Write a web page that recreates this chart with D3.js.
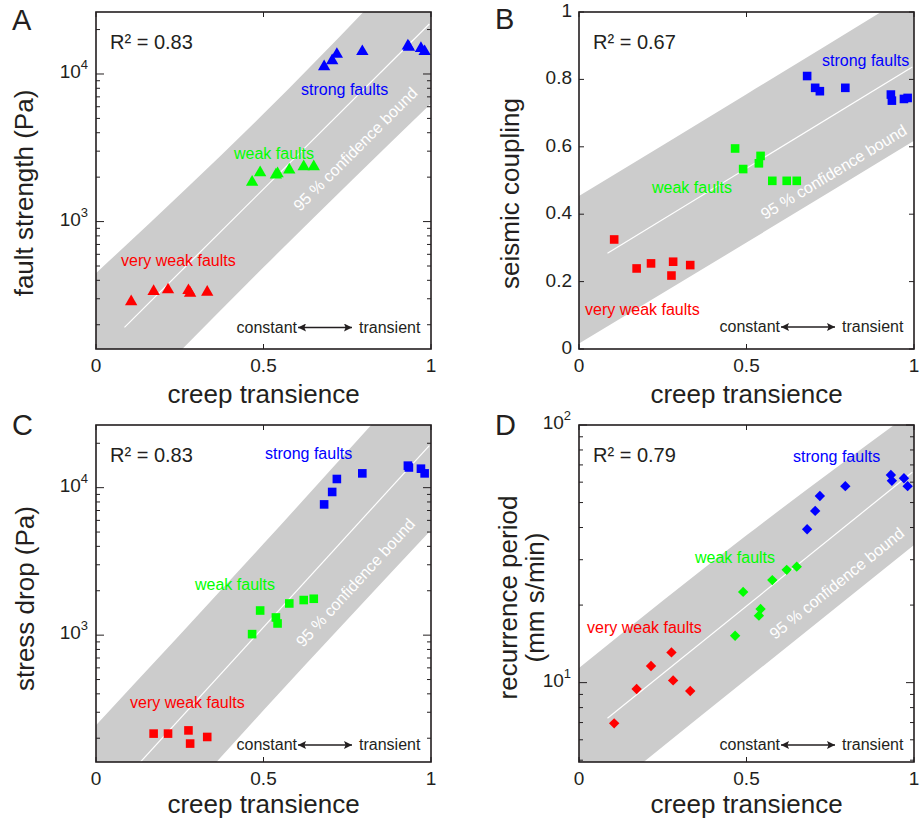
<!DOCTYPE html>
<html>
<head>
<meta charset="utf-8">
<script src="https://cdn.jsdelivr.net/npm/d3@7"></script>
<style>
  body { margin: 0; background: #fff; }
  svg text { font-family: Arial, "Liberation Sans", Helvetica, sans-serif; fill: #231f20; }
</style>
</head>
<body>
<svg id="fig" width="921" height="830"></svg>
<script>
// creep transience of each fault group (shared by all four panels)
const transRed   = [0.105, 0.172, 0.215, 0.276, 0.281, 0.332];
const transGreen = [0.466, 0.49, 0.537, 0.542, 0.577, 0.62, 0.65];
const transBlue  = [0.681, 0.705, 0.719, 0.795, 0.931, 0.934, 0.97, 0.981];

// A: fault strength (Pa)
const strengthRed   = [287, 336, 345, 341, 327, 333];
const strengthGreen = [1848, 2148, 2070, 2110, 2240, 2356, 2356];
const strengthBlue  = [11200, 12300, 13600, 14200, 15500, 15200, 14900, 14200];

// B: seismic coupling
const couplingRed   = [0.325, 0.239, 0.254, 0.218, 0.259, 0.249];
const couplingGreen = [0.595, 0.534, 0.551, 0.573, 0.499, 0.499, 0.499];
const couplingBlue  = [0.81, 0.775, 0.765, 0.775, 0.755, 0.737, 0.742, 0.745];

// C: stress drop (Pa) -- first red fault falls below the axis
const stressRed   = [null, 215, 215, 226, 184, 204];
const stressGreen = [1016, 1469, 1318, 1200, 1640, 1730, 1765];
const stressBlue  = [7700, 9350, 11450, 12500, 14100, 13700, 13450, 12500];

// D: recurrence period (mm s/min)
const recurRed   = [6.95, 9.45, 11.6, 13.1, 10.2, 9.28];
const recurGreen = [15.2, 22.5, 18.2, 19.3, 25.0, 27.4, 28.2];
const recurBlue  = [39.4, 46.4, 53, 57.9, 64, 60.7, 62.1, 57.9];

// regression lines and 95 % bounds
const fitX  = [0.085, 0.995];
const bandX = [0, 0.5, 1];
const strengthFit = [192, 21800],  strengthLo = [34.7, 490, 6310],    strengthHi = [447, 5370, 79400];
const couplingFit = [0.284, 0.837], couplingLo = [0.016, 0.316, 0.618], couplingHi = [0.454, 0.756, 1.06];
const stressFit   = [105, 19300],  stressLo   = [17.1, 309, 5160],    stressHi   = [245, 4160, 75000];
const recurFit    = [7.27, 65.6],  recurLo    = [3.09, 10.3, 34.2],   recurHi    = [11.4, 37.3, 114];

const r2Labels = ['R² = 0.83', 'R² = 0.67', 'R² = 0.83', 'R² = 0.79'];
const groupNames = ['very weak faults', 'weak faults', 'strong faults'];
const groupColors = ['#ff0000', '#00ff00', '#0000ff'];
const xTicks = [0, 0.5, 1];
const xTickLabels = ['0', '0.5', '1'];
const linTicks = [0, 0.2, 0.4, 0.6, 0.8, 1];

const W = 335, H = 337;

const panels = [
  { letter: 'A', left: 96, top: 12, log: true, domain: [137, 26300], marker: 'triangle',
    ys: [strengthRed, strengthGreen, strengthBlue], fit: strengthFit, lo: strengthLo, hi: strengthHi,
    ylabel: ['fault strength (Pa)'], ylabelX: [33], ylabelY: 193, letterPos: [12, 30],
    groupPos: [[25, 254], [138, 147], [205, 83]], boundPos: [204, 200], arrowY: 16.5, xlabelDy: 54 },
  { letter: 'B', left: 579, top: 12, log: false, domain: [0, 1], marker: 'square',
    ys: [couplingRed, couplingGreen, couplingBlue], fit: couplingFit, lo: couplingLo, hi: couplingHi,
    ylabel: ['seismic coupling'], ylabelX: [519], ylabelY: 193.5, letterPos: [495, 29],
    groupPos: [[6, 303], [73, 181], [243, 54]], boundPos: [186, 208], arrowY: 17, xlabelDy: 54 },
  { letter: 'C', left: 96, top: 425, log: true, domain: [138, 26600], marker: 'square',
    ys: [stressRed, stressGreen, stressBlue], fit: stressFit, lo: stressLo, hi: stressHi,
    ylabel: ['stress drop (Pa)'], ylabelX: [34], ylabelY: 598.5, letterPos: [12, 435],
    groupPos: [[34, 283], [99, 165], [169, 34]], boundPos: [207, 223], arrowY: 12, xlabelDy: 51 },
  { letter: 'D', left: 579, top: 425, log: true, domain: [4.92, 100], marker: 'diamond',
    ys: [recurRed, recurGreen, recurBlue], fit: recurFit, lo: recurLo, hi: recurHi,
    ylabel: ['recurrence period', '(mm s/min)'], ylabelX: [517, 544], ylabelY: 597.5, letterPos: [495, 435],
    groupPos: [[8, 208], [116, 138], [214, 37]], boundPos: [196, 215], arrowY: 12, xlabelDy: 51 }
];
const trans = [transRed, transGreen, transBlue];

const svg = d3.select('#fig');
const defs = svg.append('defs');
defs.append('marker')
  .attr('id', 'ahead')
  .attr('viewBox', '0 0 10 10')
  .attr('refX', 10).attr('refY', 5)
  .attr('markerWidth', 10).attr('markerHeight', 8)
  .attr('markerUnits', 'userSpaceOnUse')
  .attr('orient', 'auto-start-reverse')
  .append('path').attr('d', 'M0,0 L10,5 L0,10 L2,5 Z').attr('fill', '#231f20');

panels.forEach((p, pi) => {
  const x = d3.scaleLinear().domain([0, 1]).range([p.left, p.left + W]);
  const y = (p.log ? d3.scaleLog() : d3.scaleLinear()).domain(p.domain).range([p.top + H, p.top]);
  const g = svg.append('g');

  defs.append('clipPath').attr('id', 'clip' + pi)
    .append('rect').attr('x', p.left).attr('y', p.top).attr('width', W).attr('height', H);
  const plot = g.append('g').attr('clip-path', 'url(#clip' + pi + ')');

  // confidence band
  const area = d3.area()
    .x(d => x(d))
    .y0((d, i) => y(p.lo[i]))
    .y1((d, i) => y(p.hi[i]))
    .curve(d3.curveNatural);
  plot.append('path').datum(bandX).attr('d', area).attr('fill', '#cccccc');

  // regression line
  const line = d3.line().x(d => x(d)).y((d, i) => y(p.fit[i]));
  plot.append('path').datum(fitX).attr('d', line)
    .attr('fill', 'none').attr('stroke', '#fff').attr('stroke-width', 1.2);

  // bound label, rotated along the band
  const ang = Math.atan2(y(p.lo[2]) - y(p.lo[0]), x(1) - x(0)) * 180 / Math.PI;
  g.append('text')
    .attr('transform', `translate(${p.left + p.boundPos[0]},${p.top + p.boundPos[1]}) rotate(${ang})`)
    .style('font-size', '16px').style('fill', '#fff')
    .text('95 % confidence bound');

  // group labels
  groupNames.forEach((name, k) => {
    g.append('text')
      .attr('x', p.left + p.groupPos[k][0]).attr('y', p.top + p.groupPos[k][1])
      .style('font-size', '16px').style('fill', groupColors[k])
      .text(name);
  });

  // points
  let sym;
  if (p.marker === 'triangle') sym = d3.symbol().type(d3.symbolTriangle).size(66);
  else if (p.marker === 'square') sym = d3.symbol().type(d3.symbolSquare).size(74);
  else sym = d3.symbol().type(d3.symbolSquare).size(54);
  const rot = p.marker === 'diamond' ? ' rotate(45)' : '';

  p.ys.forEach((vals, k) => {
    const pts = vals.map((v, i) => ({ x: trans[k][i], y: v })).filter(d => d.y != null);
    plot.selectAll('.pt' + k)
      .data(pts)
      .enter()
      .append('path')
      .attr('class', 'pt' + k)
      .attr('d', sym)
      .attr('transform', d => `translate(${x(d.x)},${y(d.y)})${rot}`)
      .attr('fill', groupColors[k]);
  });

  // R² text
  g.append('text')
    .attr('x', p.left + 14).attr('y', p.top + 36.5)
    .style('font-size', '20px')
    .text(r2Labels[pi]);

  // constant <-> transient
  const by = p.top + H - p.arrowY;
  g.append('text')
    .attr('x', p.left + 201).attr('y', by)
    .attr('text-anchor', 'end')
    .style('font-size', '16px')
    .text('constant');
  g.append('line')
    .attr('x1', p.left + 202).attr('x2', p.left + 256)
    .attr('y1', by - 5).attr('y2', by - 5)
    .attr('stroke', '#231f20').attr('stroke-width', 1.3)
    .attr('marker-start', 'url(#ahead)').attr('marker-end', 'url(#ahead)');
  g.append('text')
    .attr('x', p.left + 263).attr('y', by)
    .style('font-size', '16px')
    .text('transient');

  // box
  g.append('rect')
    .attr('x', p.left).attr('y', p.top).attr('width', W).attr('height', H)
    .attr('fill', 'none').attr('stroke', '#231f20').attr('stroke-width', 1.6);

  // x ticks (inside, top and bottom)
  xTicks.forEach((t, i) => {
    g.append('line').attr('x1', x(t)).attr('x2', x(t))
      .attr('y1', p.top + H).attr('y2', p.top + H - 5)
      .attr('stroke', '#231f20');
    g.append('line').attr('x1', x(t)).attr('x2', x(t))
      .attr('y1', p.top).attr('y2', p.top + 5)
      .attr('stroke', '#231f20');
    g.append('text')
      .attr('x', x(t)).attr('y', p.top + H + 23)
      .attr('text-anchor', 'middle')
      .style('font-size', '19px')
      .text(xTickLabels[i]);
  });

  // y ticks
  const yt = p.log ? y.ticks() : linTicks;
  yt.forEach(t => {
    const major = p.log ? Math.abs(Math.log10(t) - Math.round(Math.log10(t))) < 1e-9 : true;
    const len = p.log ? (major ? 8 : 4) : 5;
    g.append('line').attr('x1', p.left).attr('x2', p.left + len)
      .attr('y1', y(t)).attr('y2', y(t)).attr('stroke', '#231f20');
    g.append('line').attr('x1', p.left + W).attr('x2', p.left + W - len)
      .attr('y1', y(t)).attr('y2', y(t)).attr('stroke', '#231f20');
    if (!major) return;
    if (p.log) {
      const txt = g.append('text')
        .attr('x', p.left - 8).attr('y', y(t) + 4)
        .attr('text-anchor', 'end')
        .style('font-size', '19px');
      txt.append('tspan').text('10');
      txt.append('tspan').attr('dy', -9).style('font-size', '13px')
        .text(Math.round(Math.log10(t)));
    } else {
      g.append('text')
        .attr('x', p.left - 7).attr('y', y(t) + 5)
        .attr('text-anchor', 'end')
        .style('font-size', '19px')
        .text(d3.format('')(t));
    }
  });

  // axis labels
  g.append('text')
    .attr('x', p.left + W / 2).attr('y', p.top + H + p.xlabelDy)
    .attr('text-anchor', 'middle')
    .style('font-size', '26px')
    .text('creep transience');
  p.ylabel.forEach((lab, i) => {
    g.append('text')
      .attr('transform', `translate(${p.ylabelX[i]},${p.ylabelY}) rotate(-90)`)
      .attr('text-anchor', 'middle')
      .style('font-size', '26px')
      .text(lab);
  });

  // panel letter
  g.append('text')
    .attr('x', p.letterPos[0]).attr('y', p.letterPos[1])
    .style('font-size', '29px')
    .text(p.letter);
});
</script>
</body>
</html>
